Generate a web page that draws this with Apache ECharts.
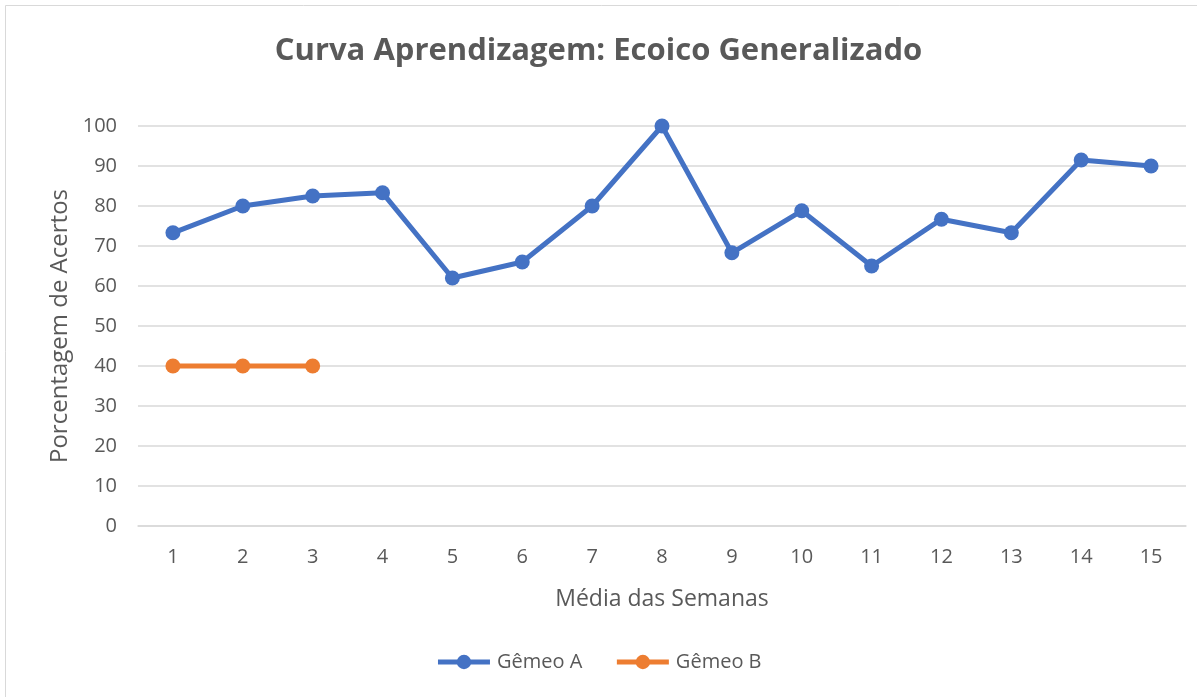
<!DOCTYPE html>
<html>
<head>
<meta charset="utf-8">
<script src="https://cdn.jsdelivr.net/npm/echarts@6/dist/echarts.min.js"></script>
<style>
html,body{margin:0;padding:0;background:#fff;}
#c{width:1197px;height:697px;}
</style>
</head>
<body>
<div id="c"></div>
<script>
const categories = ['1','2','3','4','5','6','7','8','9','10','11','12','13','14','15'];
const gemeoA = [73.3, 80, 82.5, 83.3, 62, 66, 80, 100, 68.3, 78.8, 65, 76.7, 73.3, 91.5, 90];
const gemeoB = [40, 40, 40];
const seriesNames = ['Gêmeo A', 'Gêmeo B'];
const titleText = 'Curva Aprendizagem: Ecoico Generalizado';
const xName = 'Média das Semanas';
const yName = 'Porcentagem de Acertos';

const chart = echarts.init(document.getElementById('c'));
const font = "'Open Sans', sans-serif";
chart.setOption({
  backgroundColor: '#fff',
  animation: false,
  textStyle: { fontFamily: font },
  graphic: [{
    type: 'rect', silent: true,
    shape: { x: 5.5, y: 5.5, width: 1200, height: 700 },
    style: { fill: 'none', stroke: '#d9d9d9', lineWidth: 1 }
  }],
  title: {
    text: titleText, left: 'center', top: 31,
    textStyle: { fontFamily: font, fontSize: 31, fontWeight: 'bold', color: '#595959' }
  },
  legend: {
    bottom: 20, left: 'center', itemWidth: 52, itemHeight: 18, itemGap: 32,
    lineStyle: { width: 5 },
    textStyle: { fontFamily: font, fontSize: 20, color: '#595959', padding: [0, 0, 0, 2] },
    data: seriesNames
  },
  grid: { left: 138, right: 11, top: 126, bottom: 171, containLabel: false },
  xAxis: {
    type: 'category', data: categories, boundaryGap: true,
    name: xName, nameLocation: 'middle', nameGap: 62,
    nameTextStyle: { fontFamily: font, fontSize: 23, color: '#595959' },
    axisLine: { lineStyle: { color: '#d9d9d9', width: 1.5 } },
    axisTick: { show: false },
    axisLabel: { fontFamily: font, fontSize: 20, color: '#595959', margin: 21 }
  },
  yAxis: {
    type: 'value', min: 0, max: 100, interval: 10,
    name: yName, nameLocation: 'middle', nameGap: 66, nameRotate: 90,
    nameTextStyle: { fontFamily: font, fontSize: 24, color: '#595959' },
    axisLine: { show: false }, axisTick: { show: false },
    axisLabel: { fontFamily: font, fontSize: 20, color: '#595959', margin: 21 },
    splitLine: { lineStyle: { color: '#d9d9d9', width: 1.5 } }
  },
  series: [
    { name: seriesNames[0], type: 'line', data: gemeoA, symbol: 'circle', symbolSize: 15,
      lineStyle: { width: 5, color: '#4472c4' }, itemStyle: { color: '#4472c4' } },
    { name: seriesNames[1], type: 'line', data: gemeoB, symbol: 'circle', symbolSize: 15,
      lineStyle: { width: 5, color: '#ed7d31' }, itemStyle: { color: '#ed7d31' } }
  ]
});
</script>
</body>
</html>
